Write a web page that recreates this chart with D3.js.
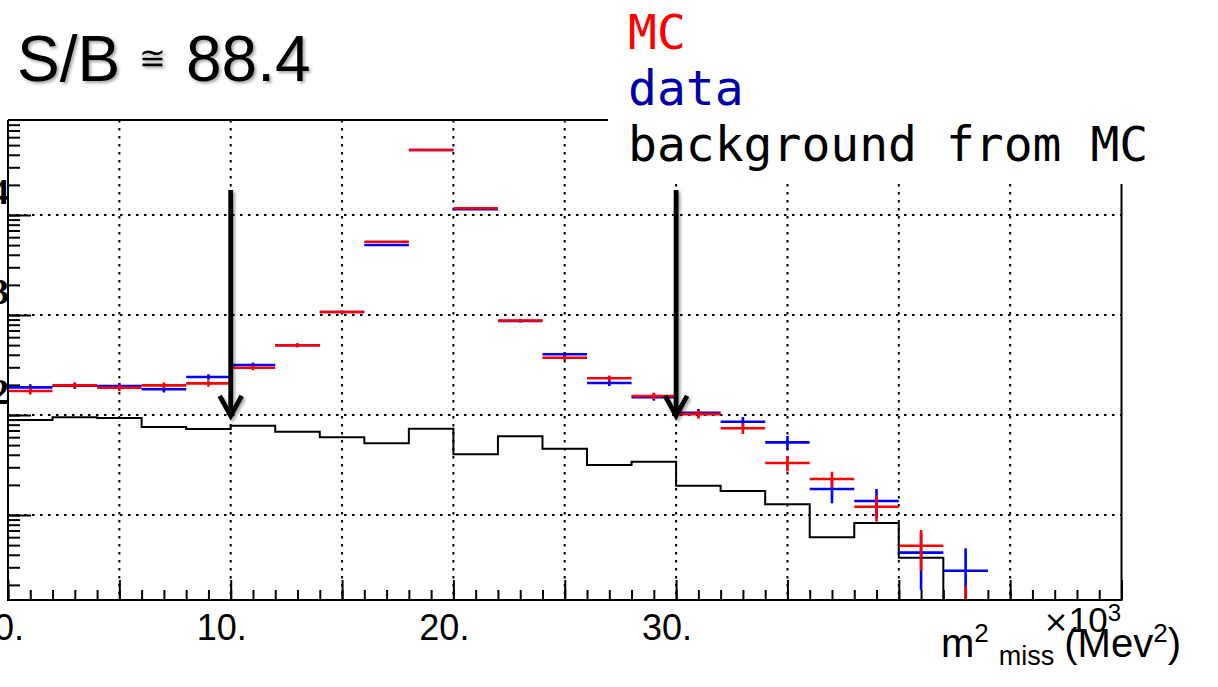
<!DOCTYPE html>
<html>
<head>
<meta charset="utf-8">
<script src="https://cdnjs.cloudflare.com/ajax/libs/d3/7.8.5/d3.min.js"></script>
<style>
  body { margin: 0; background: #fff; }
</style>
</head>
<body>
<script>
// bin lower edges in units of 10^3 MeV^2, every bin is 2 wide
var binLow = [0,2,4,6,8,10,12,14,16,18,20,22,24,26,28,30,32,34,36,38,40,42,44,46,48];
var binWidth = 2;

// MC (red), data (blue), background from MC (black step)
var mcValues   = [174,198,187,198,207,297,498,1072,5410,44700,11700,880,374,233,155,102,73.6,33.1,22.9,12.1,4.93,1.0,null,null,null];
var mcErrors   = [14,14,14,14,15,17,22,33,74,211,108,30,19,15,12,10,9,5.8,4.2,3.5,2.15,0.95,null,null,null];
var dataValues = [189,196,195,181,240,316,498,1072,5010,44700,11400,870,405,209,151,105,85.7,53.3,18.2,13.8,4.2,2.77,null,null,null];
var dataErrors = [14,14,14,13,15,18,22,33,71,211,107,30,20,14,12,10,10,8.4,5.1,4.4,2.42,1.87,null,null,null];
var bgValues   = [89.1,94.8,93.3,75.9,72.4,78.2,68.1,59.8,52.1,72.9,40.5,61.2,46.1,31.6,34.1,19.6,17.4,12.8,5.98,8.32,3.74,0,0,0,0];

// axis labels (the y labels are the exponents of 10, cut by the crop)
var xTickLabels = [0,10,20,30];
var yTickExponents = [4,3,2];

// cut positions marked with arrows
var cutValues = [10,30];
var arrowFrom = 17800, arrowTo = 98;

var legendLabels = ["MC","data","background from MC"];
var legendColors = ["#ff0000","#0000a8","#000000"];

var W = 1218, H = 687;
var frame = {left: 8, right: 1121.5, top: 120, bottom: 600};

var x = d3.scaleLinear().domain([0,50]).range([frame.left, frame.right]);
var y = d3.scaleLog().domain([1.4125, 89125]).range([frame.bottom, frame.top]);

var svg = d3.select("body").append("svg")
    .attr("width", W)
    .attr("height", H)
    .style("display", "block");

var defs = svg.append("defs");
defs.append("clipPath").attr("id", "plotclip")
  .append("rect")
    .attr("x", frame.left).attr("y", frame.top)
    .attr("width", frame.right - frame.left)
    .attr("height", frame.bottom - frame.top);
var shadow = defs.append("filter").attr("id", "shadow")
    .attr("x", "-20%").attr("y", "-20%").attr("width", "140%").attr("height", "140%");
shadow.append("feDropShadow")
    .attr("dx", 2).attr("dy", 2).attr("stdDeviation", 1.5)
    .attr("flood-color", "#000").attr("flood-opacity", 0.35);

// dotted grid
var grid = svg.append("g").attr("stroke", "#000").attr("stroke-width", 2)
    .attr("stroke-dasharray", "2.5,5.5");
grid.selectAll(".vgrid").data(d3.range(5, 50, 5)).enter().append("line")
    .attr("x1", function(d){ return x(d); }).attr("x2", function(d){ return x(d); })
    .attr("y1", frame.top).attr("y2", frame.bottom);
grid.selectAll(".hgrid").data([10,100,1000,10000]).enter().append("line")
    .attr("x1", frame.left).attr("x2", frame.right)
    .attr("y1", function(d){ return y(d); }).attr("y2", function(d){ return y(d); });

// ticks pointing into the frame
var xMinor = svg.append("g").attr("transform", "translate(0," + frame.bottom + ")")
    .call(d3.axisBottom(x).tickValues(d3.range(0, 51, 1)).tickSize(-10).tickFormat(""));
var xMajor = svg.append("g").attr("transform", "translate(0," + frame.bottom + ")")
    .call(d3.axisBottom(x).tickValues(d3.range(0, 51, 5)).tickSize(-20).tickFormat(""));
var yMinor = svg.append("g").attr("transform", "translate(" + frame.left + ",0)")
    .call(d3.axisLeft(y).tickValues(y.ticks().filter(function(d){ return d >= 2; })).tickSize(-12).tickFormat(""));
var yMajor = svg.append("g").attr("transform", "translate(" + frame.left + ",0)")
    .call(d3.axisLeft(y).tickValues([10,100,1000,10000]).tickSize(-23).tickFormat(""));
[xMinor, xMajor, yMinor, yMajor].forEach(function(a){
  a.select(".domain").remove();
  a.selectAll("line").attr("stroke", "#000").attr("stroke-width", 2);
});

var plot = svg.append("g").attr("clip-path", "url(#plotclip)");

// background histogram
var bgPoints = binLow.map(function(lo, i){ return [lo, bgValues[i]]; });
bgPoints.push([binLow[binLow.length-1] + binWidth, bgValues[bgValues.length-1]]);
var bgLine = d3.line()
    .x(function(d){ return x(d[0]); })
    .y(function(d){ return d[1] > 0 ? y(d[1]) : frame.bottom + 2; })
    .curve(d3.curveStepAfter);
plot.append("path")
    .datum(bgPoints)
    .attr("d", bgLine)
    .attr("fill", "none")
    .attr("stroke", "#000")
    .attr("stroke-width", 2);

// points with bin-width bars and error bars
function drawSeries(values, errors, color) {
  var g = plot.append("g").attr("stroke", color).attr("stroke-width", 2.6);
  var pts = binLow.map(function(lo, i){ return {lo: lo, v: values[i], e: errors[i]}; })
    .filter(function(d){ return d.v !== null; });
  g.selectAll(".hbar").data(pts).enter().append("line")
      .attr("x1", function(d){ return x(d.lo); })
      .attr("x2", function(d){ return x(d.lo + binWidth); })
      .attr("y1", function(d){ return y(d.v); })
      .attr("y2", function(d){ return y(d.v); });
  g.selectAll(".ebar").data(pts).enter().append("line")
      .attr("x1", function(d){ return x(d.lo + binWidth/2); })
      .attr("x2", function(d){ return x(d.lo + binWidth/2); })
      .attr("y1", function(d){ return y(d.v + d.e); })
      .attr("y2", function(d){ return y(Math.max(d.v - d.e, 0.01)); });
}
drawSeries(dataValues, dataErrors, "#0000ff");
drawSeries(mcValues, mcErrors, "#ff0000");

// frame
svg.append("path")
    .attr("d", "M" + frame.left + "," + frame.top + "V" + frame.bottom + "H" + frame.right + "V" + frame.top + "H" + frame.left)
    .attr("fill", "none")
    .attr("stroke", "#000")
    .attr("stroke-width", 2);

// x tick labels
svg.selectAll(".xlab").data(xTickLabels).enter().append("text")
    .attr("x", function(d){ return x(d) + 16; })
    .attr("y", 640)
    .attr("text-anchor", "end")
    .style("font-family", "Liberation Sans, Arial, sans-serif")
    .style("font-size", "36px")
    .text(function(d){ return d + "."; });

// y tick labels (exponents only, mostly outside the picture)
svg.selectAll(".ylab").data(yTickExponents).enter().append("text")
    .attr("x", 9)
    .attr("y", function(d){ return y(Math.pow(10, d)) - 11; })
    .attr("text-anchor", "end")
    .style("font-family", "Liberation Serif, Times New Roman, serif")
    .style("font-weight", "bold")
    .style("font-size", "36px")
    .text(function(d){ return d; });

// cut arrows
var arrows = svg.append("g").attr("filter", "url(#shadow)")
    .attr("stroke", "#000").attr("fill", "none").attr("stroke-width", 4.8);
cutValues.forEach(function(c){
  var cx = x(c), y0 = y(arrowFrom), y1 = y(arrowTo);
  arrows.append("line").attr("x1", cx).attr("x2", cx).attr("y1", y0).attr("y2", y1 - 2);
  arrows.append("path")
      .attr("d", "M" + (cx - 11) + "," + (y1 - 20) + "L" + cx + "," + y1 + "L" + (cx + 11) + "," + (y1 - 20));
});

// legend box covering the top right corner of the frame
svg.append("rect")
    .attr("x", 608).attr("y", 0).attr("width", W - 608).attr("height", 184)
    .attr("fill", "#fff");
svg.selectAll(".leg").data(legendLabels).enter().append("text")
    .attr("x", 628)
    .attr("y", function(d, i){ return 49 + i * 56; })
    .attr("fill", function(d, i){ return legendColors[i]; })
    .style("font-family", "DejaVu Sans Mono, monospace")
    .style("font-size", "48px")
    .text(function(d){ return d; });

// S/B label
var sb = svg.append("text")
    .attr("y", 81)
    .attr("filter", "url(#shadow)")
    .style("font-family", "Liberation Sans, Arial, sans-serif")
    .style("font-size", "64px");
sb.append("tspan").attr("x", 17).text("S/B");
sb.append("tspan").attr("x", 139).attr("y", 69).style("font-size", "32px").text("\u2245");
sb.append("tspan").attr("x", 186).attr("y", 81).text("88.4");

// axis title
var mult = svg.append("text")
    .attr("x", 1121).attr("y", 632)
    .attr("text-anchor", "end")
    .style("font-family", "Liberation Sans, Arial, sans-serif")
    .style("font-size", "35px");
mult.append("tspan").style("font-family", "DejaVu Sans, sans-serif").style("font-size", "30px").text("\u00d7");
mult.append("tspan").text("10");
mult.append("tspan").attr("dy", -11).style("font-size", "24px").text("3");

var title = svg.append("text")
    .attr("x", 941).attr("y", 657)
    .style("font-family", "Liberation Sans, Arial, sans-serif")
    .style("font-size", "40px");
title.append("tspan").text("m");
title.append("tspan").attr("dy", -15).style("font-size", "26px").text("2");
title.append("tspan").attr("dy", 23).attr("dx", 10).style("font-size", "27px").text("miss");
title.append("tspan").attr("dy", -8).attr("dx", 10).text("(Mev");
title.append("tspan").attr("dy", -15).style("font-size", "26px").text("2");
title.append("tspan").attr("dy", 15).text(")");
</script>
</body>
</html>
